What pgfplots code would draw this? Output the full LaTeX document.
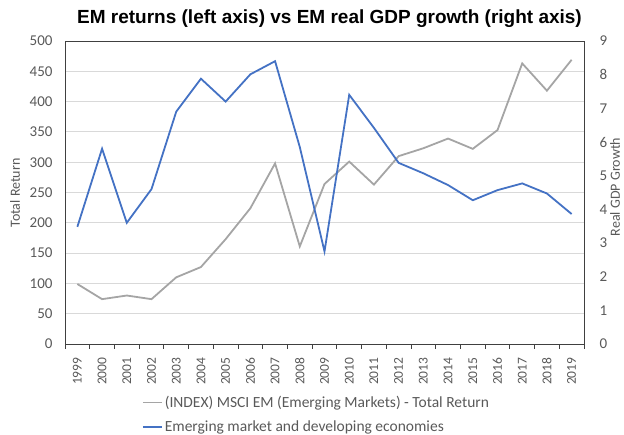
\documentclass[border=0pt]{standalone}
\usepackage{pgfplots}
\pgfplotsset{compat=1.18}
\usepackage{fontspec}
\setmainfont{Carlito}
\newfontfamily\titlefont{Liberation Sans}
\definecolor{tickgray}{HTML}{595959}
\definecolor{gridgray}{HTML}{D9D9D9}
\definecolor{msci}{HTML}{A5A5A5}
\definecolor{embl}{HTML}{4472C4}
\definecolor{frame}{HTML}{404040}

\pgfplotstableread{
year tr
1999 99
2000 74
2001 80
2002 74
2003 110
2004 127
2005 173
2006 224
2007 298
2008 161
2009 264
2010 301
2011 263
2012 310
2013 323
2014 339
2015 322
2016 353
2017 463
2018 418
2019 469
}\msci

\pgfplotstableread{
year gdp
1999 3.48
2000 5.80
2001 3.60
2002 4.60
2003 6.90
2004 7.88
2005 7.20
2006 8.01
2007 8.40
2008 5.85
2009 2.75
2010 7.40
2011 6.42
2012 5.38
2013 5.07
2014 4.72
2015 4.27
2016 4.57
2017 4.77
2018 4.47
2019 3.86
}\gdp

\begin{document}
\begin{tikzpicture}[x=1bp,y=1bp]
\path[use as bounding box] (0,0) rectangle (624,435);
\node[font=\titlefont\bfseries\fontsize{19bp}{21bp}\selectfont, anchor=center] at (329.5,416.5) {EM returns (left axis) vs EM real GDP growth (right axis)};
\node[font=\fontsize{14bp}{16bp}\selectfont, text=tickgray, rotate=90, anchor=center] at (15,242) {Total Return};
\node[font=\fontsize{14bp}{16bp}\selectfont, text=tickgray, rotate=90, anchor=center] at (615,248) {Real GDP Growth};

\begin{axis}[
  at={(65bp,91bp)}, anchor=south west,
  scale only axis, width=519bp, height=303bp,
  xmin=1998.5, xmax=2019.5, ymin=0, ymax=500,
  ytick={0,50,...,500},
  xtick={1999,...,2019},
  xticklabel style={rotate=90, anchor=east, font=\fontsize{13.5bp}{15bp}\selectfont, text=tickgray},
  yticklabel style={font=\fontsize{15bp}{16bp}\selectfont, text=tickgray, xshift=1bp},
  /pgf/number format/assume math mode=true,
  /pgf/number format/1000 sep={},
  major x tick style={draw=none},
  major tick length=10bp,
  minor xtick={1998.5,1999.5,...,2019.5},
  minor x tick style={draw=frame, line width=0.8bp},
  minor tick length=5bp,
  tick align=outside,
  xtick pos=bottom,
  ytick style={draw=none},
  ymajorgrids, grid style={gridgray, line width=0.8bp},
  axis line style={frame, line width=0.9bp},
  clip=false,
]
\addplot[msci, line width=1.8bp] table[x=year, y=tr] {\msci};
\end{axis}

\begin{axis}[
  at={(65bp,91bp)}, anchor=south west,
  scale only axis, width=519bp, height=303bp,
  xmin=1998.5, xmax=2019.5, ymin=0, ymax=9,
  ytick={0,1,...,9},
  axis x line=none,
  axis y line*=right,
  axis line style={draw=none},
  ytick style={draw=none},
  yticklabel style={font=\fontsize{15bp}{16bp}\selectfont, text=tickgray, xshift=12bp},
  /pgf/number format/assume math mode=true,
  legend style={at={(0.148,-0.165)}, anchor=north west, draw=none, fill=none,
    font=\fontsize{15.5bp}{17bp}\selectfont, text=tickgray, row sep=7.5bp,
    inner xsep=0pt, inner ysep=0pt},
  legend cell align=left,
  legend image code/.code={\draw[#1] (0bp,0bp) -- (19bp,0bp);},
]
\addlegendimage{msci, line width=1.8bp}
\addlegendentry{(INDEX) MSCI EM (Emerging Markets) - Total Return}
\addplot[embl, line width=1.8bp] table[x=year, y=gdp] {\gdp};
\addlegendentry{Emerging market and developing economies}
\end{axis}
\end{tikzpicture}
\end{document}
